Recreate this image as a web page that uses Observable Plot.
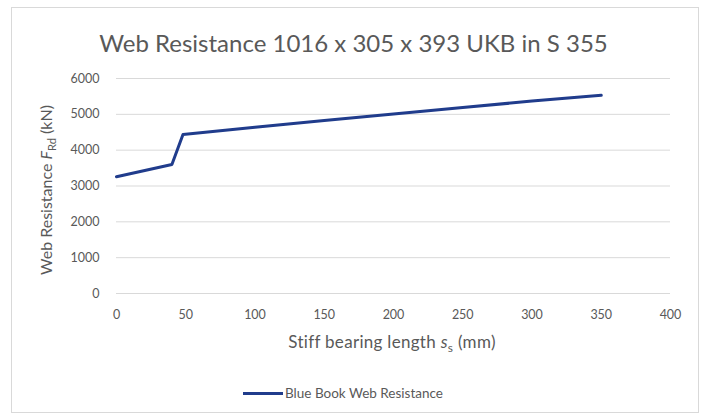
<!DOCTYPE html>
<html>
<head>
<meta charset="utf-8">
<script src="https://cdn.jsdelivr.net/npm/d3@7"></script>
<script src="https://cdn.jsdelivr.net/npm/@observablehq/plot@0.6"></script>
<style>
  body { margin: 0; background: #fff; font-family: Lato, "Open Sans", sans-serif; }
  #wrap { position: relative; width: 707px; height: 417px; overflow: hidden; }
  #frame { position: absolute; left: 11px; top: 7px; width: 688px; height: 406px; border: 1px solid #d9d9d9; box-sizing: border-box; }
  #title { position: absolute; left: 0; width: 707px; top: 42px; transform: translateY(-50%); text-align: center; font-size: 24px; color: #595959; }
  #chart { position: absolute; left: 0; top: 50px; }
  #ylab { position: absolute; left: 47px; top: 190px; transform: translate(-50%, -50%) rotate(-90deg); white-space: nowrap; font-size: 16px; color: #595959; }
  #xlab { position: absolute; left: 392px; top: 343px; transform: translate(-50%, -50%); white-space: nowrap; font-size: 17px; letter-spacing: 0.3px; color: #595959; }
  #legend { position: absolute; left: 243px; top: 393px; transform: translateY(-50%); font-size: 13.5px; color: #595959; display: flex; align-items: center; white-space: nowrap; }
  #legend .sw { width: 40px; height: 3px; background: #203c8c; margin-right: 2px; }
  sub { font-size: 70%; }
</style>
</head>
<body>
<div id="wrap">
  <div id="frame"></div>
  <div id="title">Web Resistance 1016 x 305 x 393 UKB in S 355</div>
  <div id="chart"></div>
  <div id="ylab">Web Resistance <i>F</i><sub>Rd</sub> (kN)</div>
  <div id="xlab">Stiff bearing length <i>s</i><sub>s</sub> (mm)</div>
  <div id="legend"><span class="sw"></span><span>Blue Book Web Resistance</span></div>
</div>
<script>
const bearingLength = [0, 40, 48, 100, 150, 200, 250, 300, 350];
const webResistance = [3260, 3600, 4440, 4640, 4830, 5010, 5190, 5370, 5530];
const xTicks = [0, 50, 100, 150, 200, 250, 300, 350, 400];
const yTicks = [0, 1000, 2000, 3000, 4000, 5000, 6000];

const data = bearingLength.map((s, i) => ({s, f: webResistance[i]}));

const plot = Plot.plot({
  width: 707,
  height: 275,
  marginTop: 28,
  marginBottom: 32,
  marginLeft: 116,
  marginRight: 37,
  style: { fontFamily: "Lato, 'Open Sans', sans-serif", fontSize: "12.5px", color: "#595959", background: "transparent" },
  x: { domain: [0, 400], ticks: xTicks, tickSize: 0, tickPadding: 17, label: null },
  y: { domain: [0, 6000], ticks: yTicks, tickSize: 0, tickPadding: 17, tickFormat: d3.format("d"), label: null },
  marks: [
    Plot.gridY(yTicks, { stroke: "#d9d9d9", strokeOpacity: 1, strokeWidth: 1 }),
    Plot.line(data, { x: "s", y: "f", stroke: "#203c8c", strokeWidth: 3, strokeLinejoin: "round" })
  ]
});
document.getElementById("chart").appendChild(plot);
</script>
</body>
</html>
